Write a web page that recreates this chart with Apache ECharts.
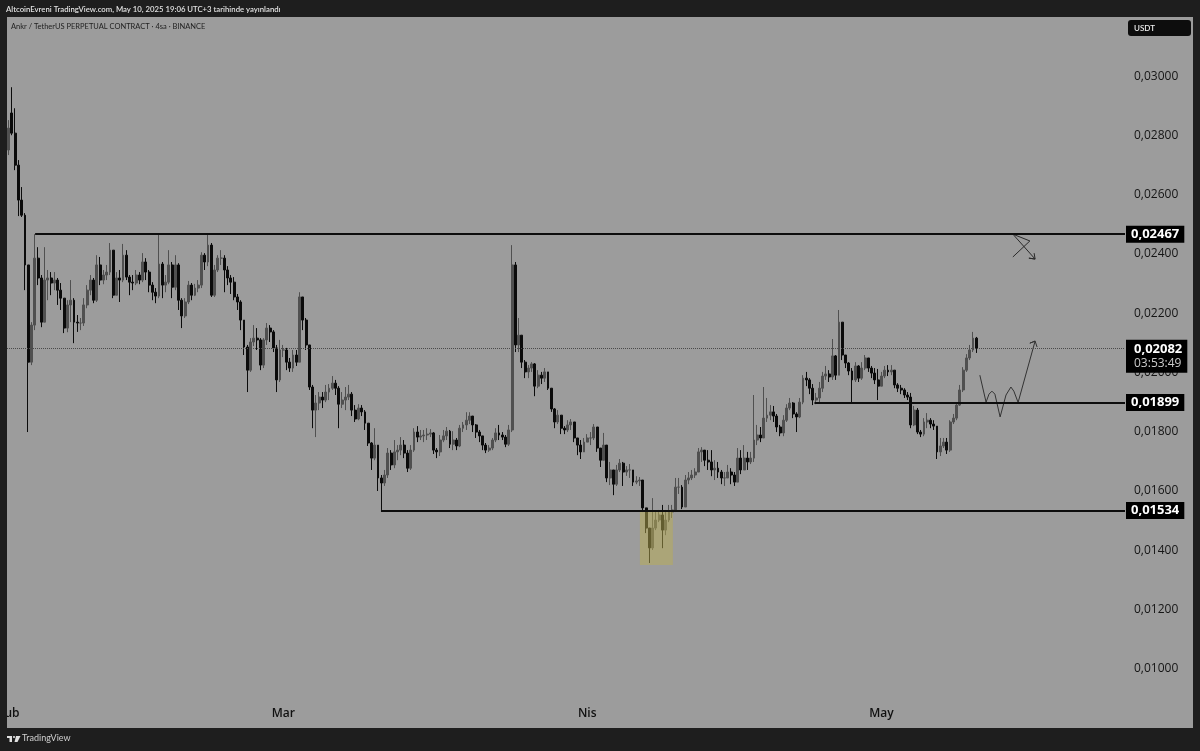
<!DOCTYPE html>
<html>
<head>
<meta charset="utf-8">
<title>ANKR/USDT</title>
<script src="https://cdn.jsdelivr.net/npm/echarts@6/dist/echarts.min.js"></script>
<style>
  html, body { margin: 0; padding: 0; background: #1e1e1e; }
  #chart { width: 1200px; height: 751px; }
</style>
</head>
<body>
<div id="chart"></div>
<script>
var opens = [
  2751,2876,2808,2700,2582,2531,2363,2035,2160,2386,2319,2170,2312,2319,2302,2312,2278,2251,2150,2228,
  2244,2170,2167,2167,2228,2278,2312,2244,2363,2312,2329,2339,2413,2261,2319,2312,2396,2322,2305,2302,
  2329,2312,2373,2339,2295,2271,2258,2366,2295,2305,2363,2288,2363,2244,2191,2238,2295,2261,2285,2295,
  2396,2373,2430,2261,2346,2386,2386,2346,2319,2305,2255,2238,2177,2086,2008,2103,2116,2110,2025,2110,
  2150,2137,2083,1975,2076,2076,2035,2015,2059,2035,2255,2177,2093,1951,1873,1897,1917,1907,1934,1947,
  1964,1947,1893,1907,1917,1927,1873,1843,1880,1867,1829,1762,1711,1755,1644,1627,1654,1728,1688,1732,
  1738,1755,1728,1677,1738,1799,1782,1786,1789,1792,1796,1738,1732,1772,1786,1802,1758,1772,1752,1812,
  1823,1839,1853,1823,1799,1786,1755,1738,1745,1772,1796,1789,1782,1758,1806,2363,2093,2126,2035,2002,
  2015,2029,1954,1991,1981,2002,1947,1877,1833,1856,1812,1806,1823,1833,1779,1755,1732,1765,1779,1779,
  1816,1745,1704,1755,1644,1671,1623,1671,1694,1664,1671,1671,1630,1634,1637,1543,1475,1408,1475,1502,
  1519,1468,1502,1529,1536,1613,1613,1546,1637,1644,1654,1664,1732,1738,1704,1698,1671,1677,1664,1644,
  1644,1664,1654,1630,1711,1671,1711,1698,1711,1772,1789,1779,1846,1856,1867,1853,1816,1796,1839,1880,
  1897,1860,1850,1900,1981,1975,1947,1907,1914,1947,1988,1995,1985,2056,1991,2170,2059,2032,2005,1975,
  2022,1981,2015,2049,2015,1998,1975,1954,1988,2008,2002,2008,1958,1947,1941,1924,1917,1823,1873,1799,
  1792,1833,1839,1826,1819,1732,1752,1765,1738,1833,1846,1890,1941,2008,2049,2076,2116
];
var closes = [
  2825,2808,2700,2582,2531,2363,2035,2160,2386,2319,2170,2312,2319,2302,2312,2278,2251,2150,2228,2244,
  2170,2167,2167,2228,2278,2312,2244,2363,2312,2329,2339,2413,2261,2319,2312,2396,2322,2305,2302,2329,
  2312,2373,2339,2295,2271,2258,2366,2295,2305,2363,2288,2363,2244,2191,2238,2295,2261,2285,2295,2396,
  2373,2430,2261,2346,2386,2386,2346,2319,2305,2255,2238,2177,2086,2008,2103,2116,2110,2025,2110,2150,
  2137,2083,1975,2076,2076,2035,2015,2059,2035,2255,2177,2093,1951,1873,1897,1917,1907,1934,1947,1964,
  1947,1893,1907,1917,1927,1873,1843,1880,1867,1829,1762,1711,1755,1644,1627,1654,1728,1688,1732,1738,
  1755,1728,1677,1738,1799,1782,1786,1789,1792,1796,1738,1732,1772,1786,1802,1758,1772,1752,1812,1823,
  1839,1853,1823,1799,1786,1755,1738,1745,1772,1796,1789,1782,1758,1806,2363,2093,2126,2035,2002,2015,
  2029,1954,1991,1981,2002,1947,1877,1833,1856,1812,1806,1823,1833,1779,1755,1732,1765,1779,1779,1816,
  1745,1704,1755,1644,1671,1623,1671,1694,1664,1671,1671,1630,1634,1637,1543,1475,1408,1475,1502,1519,
  1468,1502,1529,1536,1613,1613,1546,1637,1644,1654,1664,1732,1738,1704,1698,1671,1677,1664,1644,1644,
  1664,1654,1630,1711,1671,1711,1698,1711,1772,1789,1779,1846,1856,1867,1853,1816,1796,1839,1880,1897,
  1860,1850,1900,1981,1975,1947,1907,1914,1947,1988,1995,1985,2056,1991,2170,2059,2032,2005,1975,2022,
  1981,2015,2049,2015,1998,1975,1954,1988,2008,2002,2008,1958,1947,1941,1924,1917,1823,1873,1799,1792,
  1833,1839,1826,1819,1732,1752,1765,1738,1833,1846,1890,1941,2008,2049,2076,2116,2082
];
var highs = [
  2852,2963,2892,2717,2626,2538,2363,2170,2467,2423,2329,2423,2346,2339,2339,2319,2302,2251,2244,2312,
  2251,2194,2184,2251,2295,2329,2319,2396,2390,2346,2363,2437,2413,2339,2346,2434,2413,2329,2329,2346,
  2339,2403,2386,2346,2305,2285,2467,2373,2329,2413,2373,2396,2369,2251,2251,2309,2302,2299,2312,2406,
  2403,2467,2437,2363,2396,2413,2396,2359,2329,2322,2265,2244,2177,2093,2116,2160,2150,2116,2116,2167,
  2160,2143,2093,2110,2093,2083,2049,2076,2076,2271,2255,2184,2093,1958,1924,1934,1934,1958,1961,1988,
  1975,1954,1934,1951,1958,1934,1890,1893,1890,1873,1829,1765,1812,1755,1654,1671,1745,1738,1772,1755,
  1782,1772,1738,1755,1812,1819,1806,1806,1812,1809,1799,1745,1789,1806,1816,1806,1802,1779,1823,1833,
  1866,1866,1846,1826,1806,1786,1762,1755,1779,1812,1823,1799,1789,1823,2430,2373,2184,2126,2042,2025,
  2035,2032,2008,2002,2015,2002,1947,1880,1873,1846,1819,1839,1843,1833,1779,1772,1779,1792,1799,1826,
  1806,1745,1796,1755,1698,1671,1688,1708,1698,1684,1691,1671,1650,1647,1630,1536,1468,1576,1529,1536,
  1553,1536,1553,1553,1644,1644,1620,1654,1664,1671,1677,1745,1748,1732,1738,1738,1704,1698,1671,1664,
  1688,1677,1664,1745,1738,1755,1732,1732,1924,1823,1816,1951,1914,1890,1887,1860,1823,1856,1893,1914,
  1900,1866,1914,1991,2002,1981,1961,1931,1968,2002,2022,2008,2113,2059,2211,2170,2059,2035,2015,2035,
  2025,2035,2059,2049,2022,2015,2012,2002,2022,2025,2025,2008,1964,1958,1947,1934,1931,1887,1880,1806,
  1846,1863,1846,1839,1819,1779,1779,1779,1839,1860,1900,1958,2018,2062,2093,2137,2120
];
var lows = [
  2734,2801,2683,2528,2525,2278,1799,2025,2143,2295,2153,2228,2244,2261,2278,2228,2211,2133,2136,2170,
  2099,2137,2143,2157,2217,2261,2234,2238,2295,2298,2312,2329,2251,2271,2238,2305,2312,2261,2278,2295,
  2298,2305,2312,2271,2244,2234,2251,2251,2271,2298,2251,2278,2211,2150,2184,2231,2244,2258,2271,2285,
  2346,2359,2255,2255,2339,2363,2271,2295,2265,2244,2211,2143,2059,1934,2002,2089,2076,2008,2015,2093,
  2103,2069,1934,1968,2052,2008,2002,2002,2022,2035,2143,2076,1941,1812,1782,1873,1880,1900,1907,1941,
  1924,1812,1880,1873,1907,1853,1833,1839,1853,1806,1752,1671,1704,1600,1536,1617,1644,1671,1677,1704,
  1721,1711,1664,1671,1732,1765,1772,1765,1772,1782,1725,1711,1718,1765,1772,1745,1738,1738,1748,1799,
  1806,1826,1799,1779,1765,1738,1728,1732,1738,1765,1772,1772,1748,1752,1799,2069,2069,2015,1981,1981,
  2002,1920,1947,1961,1968,1941,1867,1812,1826,1792,1792,1799,1806,1765,1721,1708,1738,1765,1755,1772,
  1732,1681,1732,1630,1620,1586,1617,1664,1617,1651,1644,1617,1623,1617,1529,1458,1357,1401,1468,1495,
  1407,1451,1495,1509,1529,1590,1539,1553,1623,1637,1644,1677,1698,1684,1671,1650,1637,1644,1623,1617,
  1650,1623,1617,1630,1657,1677,1671,1691,1698,1755,1765,1785,1833,1839,1833,1799,1785,1785,1833,1873,
  1846,1799,1846,1893,1954,1927,1890,1893,1900,1934,1975,1968,1975,1975,1991,2042,2015,1991,1900,1968,
  1968,1975,2008,2002,1981,1961,1907,1961,1981,1988,1991,1947,1934,1927,1914,1907,1812,1819,1792,1782,
  1785,1812,1812,1806,1708,1718,1745,1725,1732,1826,1839,1887,1934,2002,2042,2069,2066
];

var slotCount = 342; // candle slots on the time axis, including the empty right side
var monthTicks = { 0: "Şub", 84: "Mar", 177: "Nis", 267: "May" };
var priceTicks = { min: 0.008, max: 0.032, interval: 0.002 };

// horizontal levels: [first slot, price]
var level24 = [8.6, 0.02467];
var level19 = [247, 0.01899];
var level15 = [114.4, 0.01534];
var lastPrice = 0.02082;
var countdown = "03:53:49";
var boxSlots = [193.6, 203.7];
var boxPrices = [0.01534, 0.0135];

// hand drawn notes: [slot, price x 100000]
var noteDown = [[307.7,2390],[312.9,2444],[307.7,2467],[314.5,2383],[312.6,2386],[314.5,2383],[314.2,2403]];
var noteUp = [[297.6,1991],[299.5,1900],[300.4,1927],[301.3,1937],[302.2,1927],[303.8,1850],[305.6,1924],[307.1,1951],[308,1937],[309.3,1899],[314.5,2106],[312.9,2099],[314.5,2106],[315.1,2086]];

function priceText(v) {
  return v.toFixed(5).replace(".", ",");
}

var categories = [];
for (var s = 0; s < slotCount; s++) {
  categories.push(String(s));
}

var candles = [];
for (var i = 0; i < closes.length; i++) {
  candles.push([opens[i] / 1e5, closes[i] / 1e5, lows[i] / 1e5, highs[i] / 1e5]);
}

function notePoints(list) {
  return list.map(function (p) { return [p[0], p[1] / 1e5]; });
}

function levelLine(level) {
  return [
    {
      coord: [level[0], level[1]],
      label: {
        show: true,
        position: "end",
        distance: 1,
        formatter: priceText(level[1]),
        backgroundColor: "#000",
        color: "#fff",
        fontFamily: "Open Sans",
        fontWeight: "bold",
        fontSize: 13,
        padding: [2, 5, 2, 5]
      }
    },
    { coord: [slotCount, level[1]] }
  ];
}

var chartDom = document.getElementById("chart");
var myChart = echarts.init(chartDom);

var option = {
  animation: false,
  backgroundColor: "#1e1e1e",
  grid: { left: 7, top: 17, width: 1118, height: 711, outerBoundsMode: "none" },
  xAxis: [
    {
      type: "category",
      data: categories,
      axisLine: { show: false },
      axisTick: { show: false },
      splitLine: { show: false },
      axisLabel: {
        inside: true,
        margin: 8,
        color: "#111",
        fontFamily: "Open Sans",
        fontSize: 12,
        fontWeight: 600,
        interval: function (index) { return monthTicks[index] !== undefined; },
        formatter: function (value, index) { return monthTicks[index] || ""; }
      }
    },
    { type: "value", min: 0, max: slotCount, show: false }
  ],
  yAxis: {
    type: "value",
    position: "right",
    min: priceTicks.min,
    max: priceTicks.max,
    interval: priceTicks.interval,
    axisLine: { show: false },
    axisTick: { show: false },
    splitLine: { show: false },
    axisLabel: {
      margin: 9,
      color: "#151515",
      fontFamily: "Open Sans",
      fontSize: 12,
      showMinLabel: false,
      showMaxLabel: false,
      formatter: priceText
    }
  },
  series: [
    {
      name: "ANKRUSDT.P",
      type: "candlestick",
      data: candles,
      barWidth: 2.4,
      progressive: 0,
      itemStyle: {
        color: "#505050",
        color0: "#0b0b0b",
        borderColor: "#505050",
        borderColor0: "#0b0b0b",
        borderWidth: 1
      }
    },
    {
      name: "levels",
      type: "line",
      xAxisIndex: 1,
      data: [],
      silent: true,
      z: 3,
      markLine: {
        silent: true,
        symbol: ["none", "none"],
        animation: false,
        lineStyle: { color: "#0d0d0d", width: 2, type: "solid" },
        data: [
          levelLine(level24),
          levelLine(level19),
          levelLine(level15),
          [
            {
              coord: [0, lastPrice],
              lineStyle: { color: "#4a4a4a", width: 1, type: "dotted" },
              label: {
                show: true,
                position: "end",
                distance: 1,
                offset: [0, 8],
                formatter: "{a|" + priceText(lastPrice) + "}\n{b|" + countdown + "}",
                backgroundColor: "#000",
                padding: [2, 5, 2, 8],
                rich: {
                  a: { color: "#fff", fontFamily: "Open Sans", fontWeight: "bold", fontSize: 13, lineHeight: 15 },
                  b: { color: "#ccc", fontFamily: "Open Sans", fontSize: 12, lineHeight: 14 }
                }
              }
            },
            { coord: [slotCount, lastPrice] }
          ]
        ]
      },
      markArea: {
        silent: true,
        z: 5,
        itemStyle: { color: "rgba(186,174,84,0.5)" },
        data: [[
          { coord: [boxSlots[0], boxPrices[0]] },
          { coord: [boxSlots[1], boxPrices[1]] }
        ]]
      }
    },
    {
      name: "noteDown",
      type: "line",
      xAxisIndex: 1,
      data: notePoints(noteDown),
      symbol: "none",
      silent: true,
      lineStyle: { color: "#2a2a2a", width: 1 }
    },
    {
      name: "noteUp",
      type: "line",
      xAxisIndex: 1,
      data: notePoints(noteUp),
      symbol: "none",
      silent: true,
      lineStyle: { color: "#333", width: 1 }
    }
  ],
  graphic: [
    { type: "rect", z: -10, silent: true, shape: { x: 7, y: 17, width: 1186, height: 711 }, style: { fill: "#9c9c9c" } },
    // the dark frame hides the left part of the first month label, as in the screenshot
    { type: "rect", z: 100, silent: true, shape: { x: 0, y: 17, width: 7, height: 711 }, style: { fill: "#1e1e1e" } },
    { type: "text", z: 101, left: 6, top: 5, style: { text: "AltcoinEvreni TradingView.com, May 10, 2025 19:06 UTC+3 tarihinde yayınlandı", fill: "#e0e0e0", font: "600 7.75px Lato" } },
    { type: "text", z: 101, left: 11, top: 23, style: { text: "Ankr / TetherUS PERPETUAL CONTRACT · 4sa · BINANCE", fill: "#222", font: "7.5px Lato" } },
    { type: "rect", z: 101, shape: { x: 1128, y: 20, width: 63, height: 16, r: 3 }, style: { fill: "#0d0d0d" } },
    { type: "text", z: 102, left: 1134, top: 24, style: { text: "USDT", fill: "#eee", font: "600 8px Lato" } },
    { type: "rect", z: 101, shape: { x: 7, y: 736, width: 5, height: 2 }, style: { fill: "#e0e0e0" } },
    { type: "rect", z: 101, shape: { x: 9.5, y: 736, width: 2.5, height: 6 }, style: { fill: "#e0e0e0" } },
    { type: "circle", z: 101, shape: { cx: 14, cy: 737, r: 1.1 }, style: { fill: "#e0e0e0" } },
    { type: "polygon", z: 101, shape: { points: [[16, 736], [20.5, 736], [17.5, 742], [14.5, 742]] }, style: { fill: "#e0e0e0" } },
    { type: "text", z: 101, left: 22, top: 734, style: { text: "TradingView", fill: "#d0d0d0", font: "9px Lato" } }
  ]
};

option && myChart.setOption(option);
</script>
</body>
</html>
